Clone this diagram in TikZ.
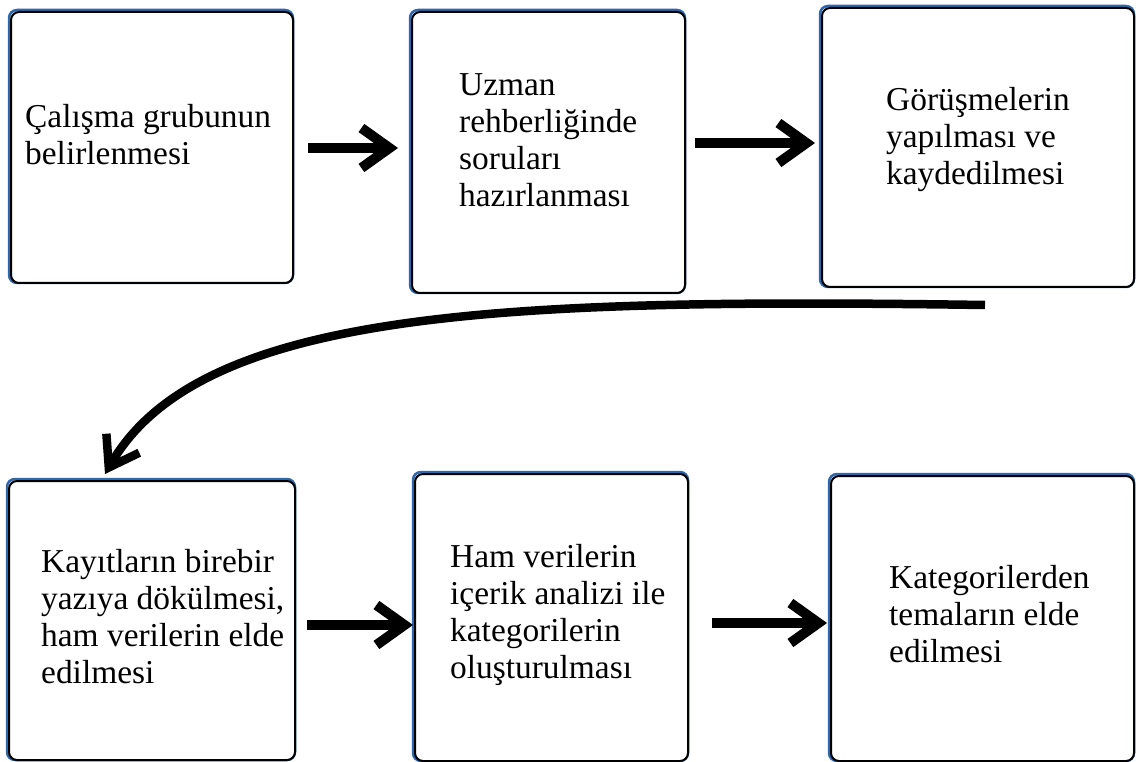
\documentclass[tikz,border=0pt]{standalone}
\usepackage{fontspec}
\setmainfont{Liberation Serif}
\usetikzlibrary{arrows.meta,calc,backgrounds}
\definecolor{rimblue}{RGB}{46,104,172}
\tikzset{
  stepbox/.style={draw=black, line width=2pt, rounded corners=8pt, fill=white, inner sep=0pt},
  rim/.style={draw=rimblue, line width=2.5pt, rounded corners=8pt},
  steptext/.style={anchor=north west, inner sep=0pt, align=left,
    font=\fontsize{33.4}{37}\selectfont},
  flow/.style={line width=10pt, -{Straight Barb[length=28pt,width=40pt]}},
  curvearrow/.style={line width=8.5pt, -{Straight Barb[length=28pt,width=38pt]}},
}
\newcommand{\firstline}{\rule{0pt}{25.9pt}}
\begin{document}
\begin{tikzpicture}[x=1pt,y=-1pt]
\useasboundingbox (0,0) rectangle (1136,762);

% process boxes
\node[stepbox, minimum width=282pt, minimum height=271pt] (b1) at (152,147.5) {};
\node[stepbox, minimum width=273pt, minimum height=281pt] (b2) at (548.5,152.5) {};
\node[stepbox, minimum width=312pt, minimum height=279pt] (b3) at (978,147.5) {};
\node[stepbox, minimum width=286pt, minimum height=279pt] (b4) at (152,620.5) {};
\node[stepbox, minimum width=273pt, minimum height=287pt] (b5) at (551.5,617.5) {};
\node[stepbox, minimum width=303pt, minimum height=285pt] (b6) at (982.5,618.5) {};

% blue rim showing behind each box
\begin{pgfonlayer}{background}
\foreach \b in {b1,b2,b3,b4,b5,b6}
  \draw[rim] ($(\b.south west)+(-1,-1)$) rectangle ($(\b.north east)+(-1,-1)$);
\end{pgfonlayer}

% box texts (first baseline 25.9pt below the node top)
\node[steptext] (t1) at (25,101.1) {\firstline Çalışma grubunun\\belirlenmesi};
\node[steptext] (t2) at (459,69.1) {\firstline Uzman\\rehberliğinde\\soruları\\hazırlanması};
\node[steptext] (t3) at (886,84.1) {\firstline Görüşmelerin\\yapılması ve\\kaydedilmesi};
\node[steptext] (t4) at (41,546.1) {\firstline Kayıtların birebir\\yazıya dökülmesi,\\ham verilerin elde\\edilmesi};
\node[steptext] (t5) at (450,541.1) {\firstline Ham verilerin\\içerik analizi ile\\kategorilerin\\oluşturulması};
\node[steptext] (t6) at (889,562.1) {\firstline Kategorilerden\\temaların elde\\edilmesi};

% arrow end points
\coordinate (a1s) at (308,148);
\coordinate (a1e) at (398,148);
\coordinate (a2s) at (695,143);
\coordinate (a2e) at (815,143);
\coordinate (a3s) at (307,625);
\coordinate (a3e) at (413,625);
\coordinate (a4s) at (712,623);
\coordinate (a4e) at (827,623);
\coordinate (cs) at (985,305);
\coordinate (ce) at (105,474);

\draw[flow] (a1s) -- (a1e);
\draw[flow] (a2s) -- (a2e);
\draw[flow] (a3s) -- (a3e);
\draw[flow] (a4s) -- (a4e);
\draw[curvearrow] (cs) .. controls (500,298) and (200,310) .. (ce);
\end{tikzpicture}
\end{document}
